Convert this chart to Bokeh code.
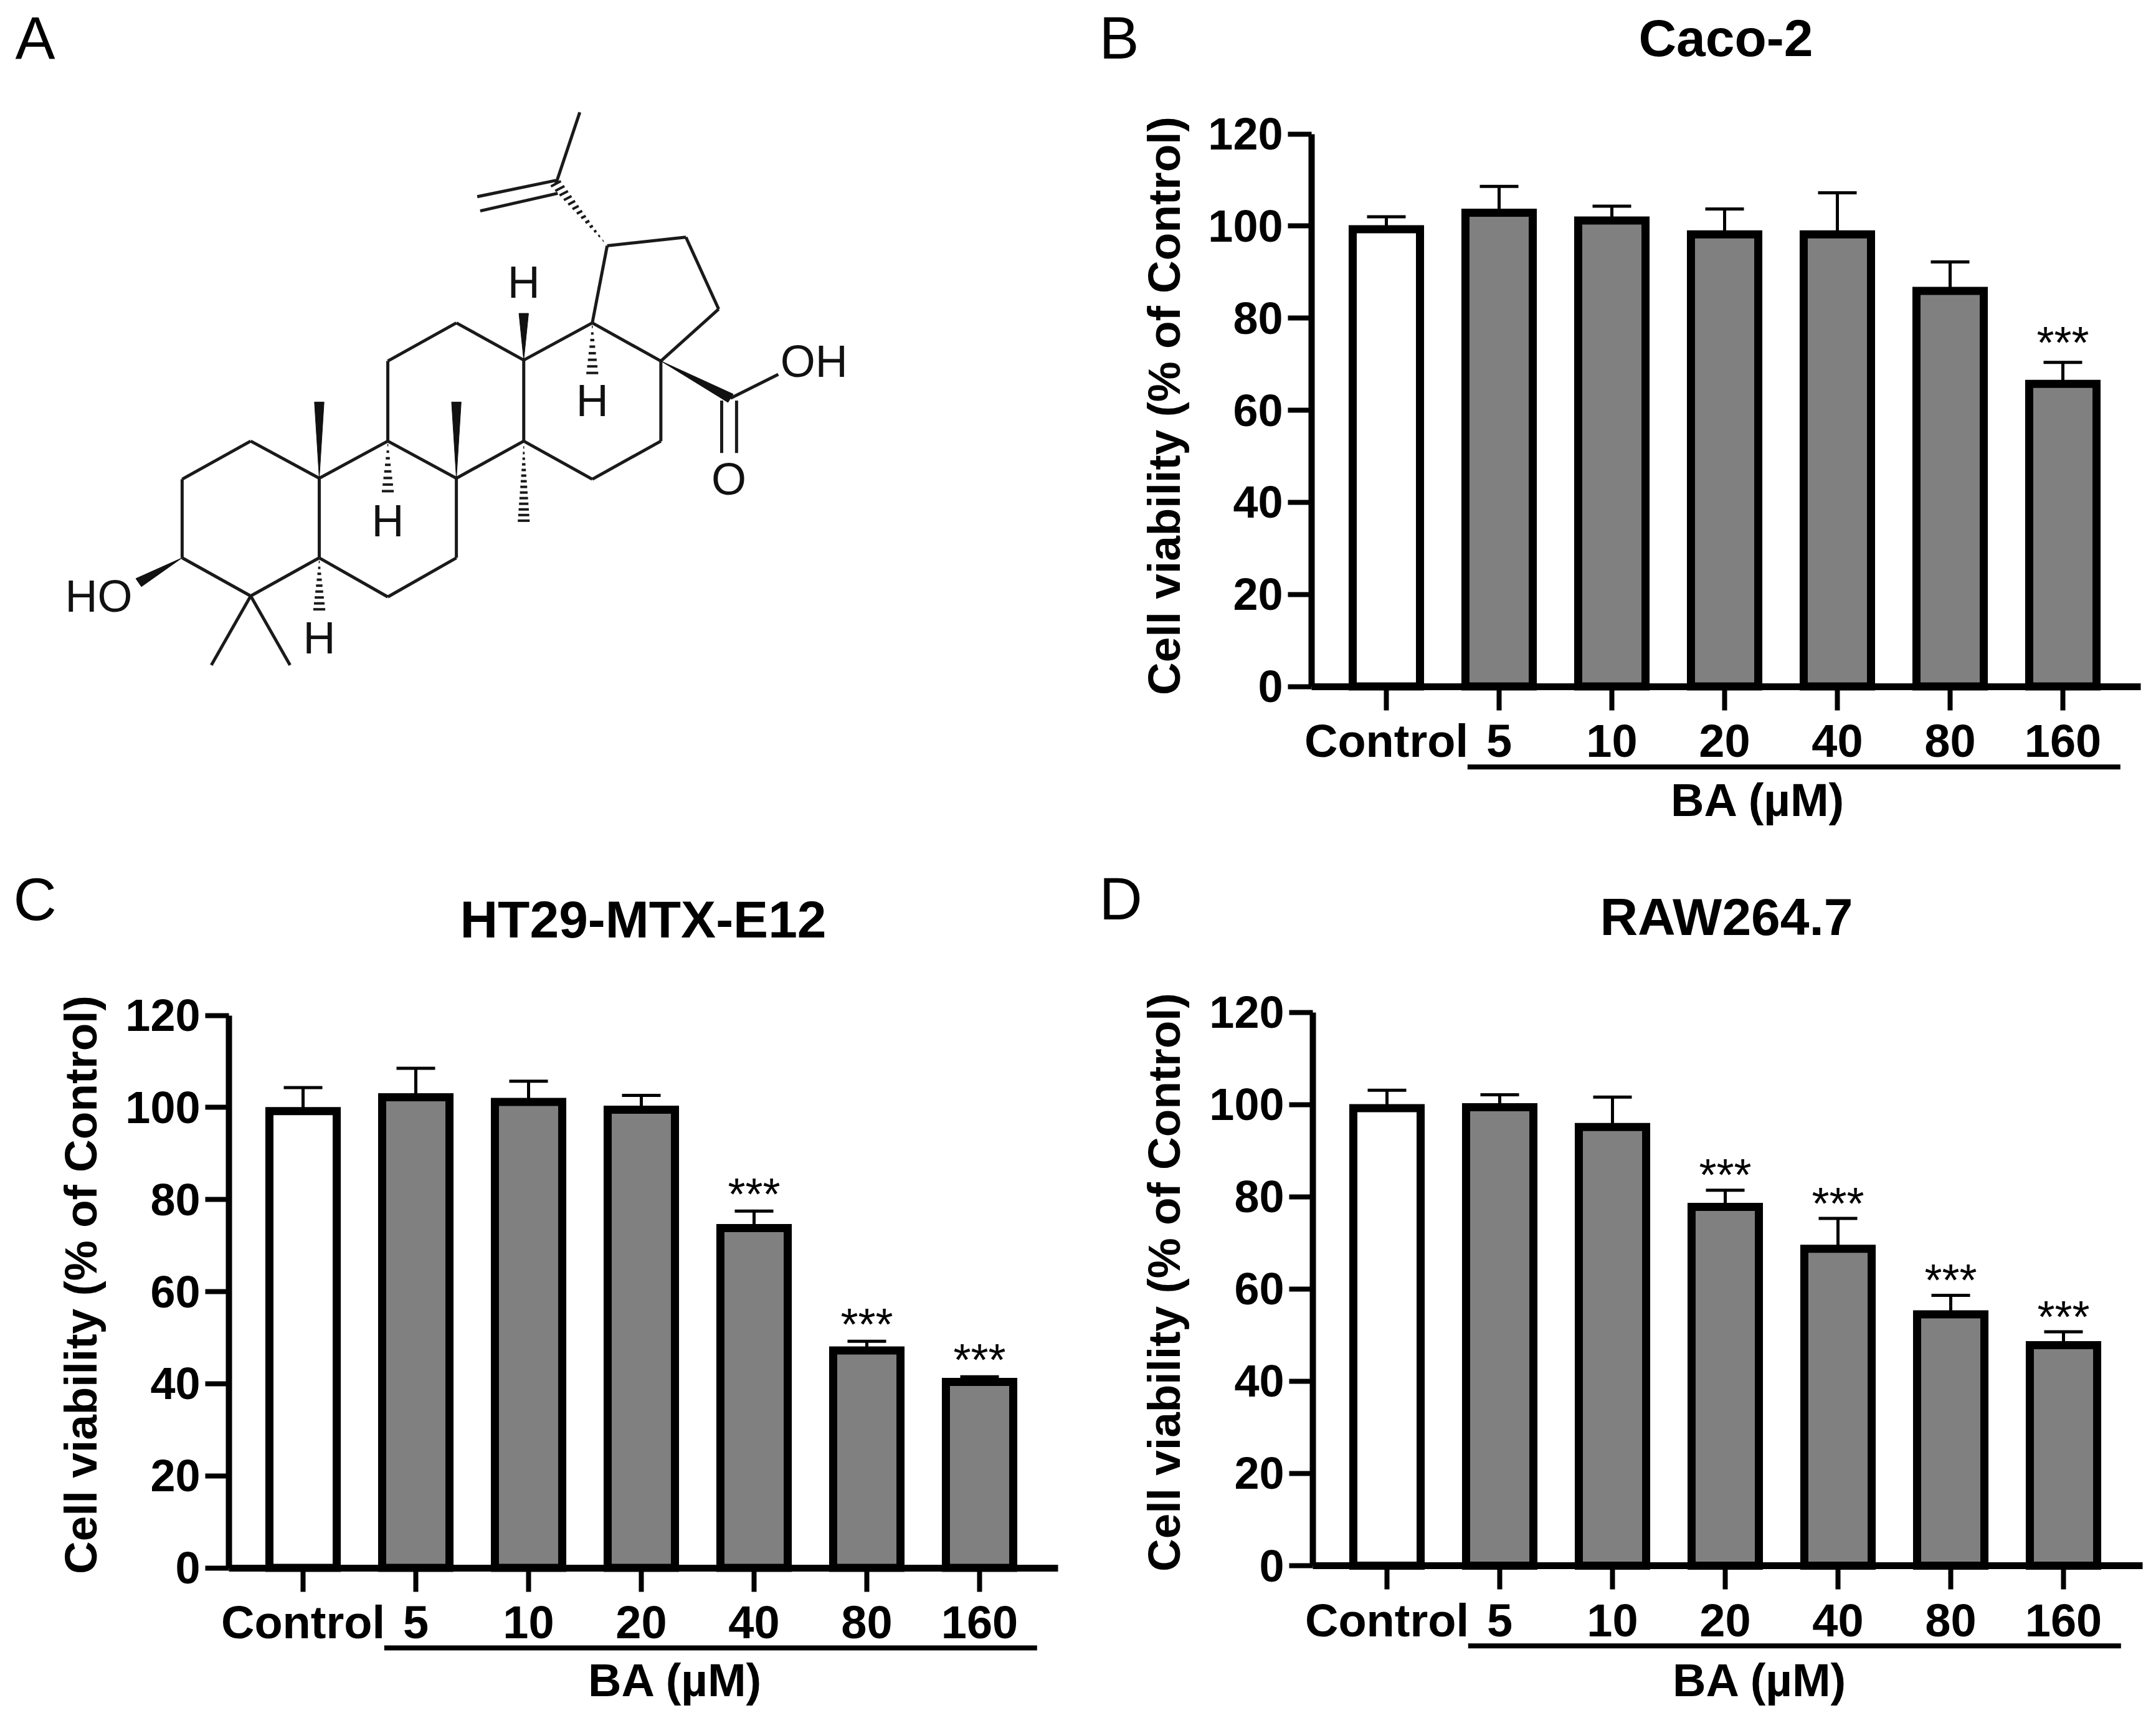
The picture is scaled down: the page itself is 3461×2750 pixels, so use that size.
from bokeh.embed import file_html
from bokeh.resources import INLINE
from bokeh.plotting import figure
from bokeh.layouts import column, row
from bokeh.core.properties import value
from bokeh.models import (ColumnDataSource, FixedTicker, Label, Whisker, TeeHead, Range1d, LinearAxis)
import numpy as np

# ---------- data ----------
categories = ["Control", "5", "10", "20", "40", "80", "160"]
y_ticks = [0, 20, 40, 60, 80, 100, 120]
y_label = "Cell viability (% of Control)"
group_label = "BA (µM)"

caco2_values = [99.3, 102.9, 101.2, 98.2, 98.2, 85.9, 65.7]
caco2_errtop = [102.0, 108.6, 104.3, 103.7, 107.2, 92.2, 70.4]
caco2_stars = [0, 0, 0, 0, 0, 0, 1]

ht29_values = [99.2, 102.2, 101.2, 99.5, 73.8, 47.2, 40.4]
ht29_errtop = [104.3, 108.5, 105.7, 102.6, 77.5, 49.2, 41.5]
ht29_stars = [0, 0, 0, 0, 1, 1, 1]

raw_values = [99.2, 99.4, 95.1, 77.8, 68.7, 54.5, 47.8]
raw_errtop = [103.1, 102.1, 101.6, 81.4, 75.3, 58.6, 50.7]
raw_stars = [0, 0, 0, 1, 1, 1, 1]

# molecule, atoms in drawing units
atoms = {
    "a1": (305, 1005), "a2": (420, 925), "a3": (535, 1003), "a4": (535, 1170), "a5": (420, 1250), "a6": (305, 1170),
    "b1": (650, 925), "b2": (765, 1003), "b3": (765, 1170), "b4": (650, 1252),
    "c1": (650, 757), "c2": (765, 677), "c3": (878, 755), "c4": (878, 925),
    "d1": (993, 677), "d2": (1108, 757), "d3": (1108, 925), "d4": (993, 1005),
    "e1": (1018, 515), "e2": (1150, 497), "e3": (1205, 648),
    "p1": (932, 385), "p2": (972, 235),
    "m1": (354, 1395), "m2": (486, 1395),
    "k1": (1225, 835), "k2": (1305, 785),
    "w1": (232, 1222), "w2": (535, 843), "w3": (765, 843), "w4": (878, 657),
    "h1": (650, 1030), "h2": (878, 1092), "h3": (535, 1278), "h4": (993, 782),
    "v1": (800, 412), "v2": (805, 442), "v3": (932, 378), "v4": (935, 405),
    "o1": (1210, 840), "o2": (1210, 950), "o3": (1235, 840), "o4": (1235, 950),
}
bonds = [("a1", "a2"), ("a2", "a3"), ("a3", "a4"), ("a4", "a5"), ("a5", "a6"), ("a6", "a1"),
         ("a3", "b1"), ("b1", "b2"), ("b2", "b3"), ("b3", "b4"), ("b4", "a4"),
         ("b1", "c1"), ("c1", "c2"), ("c2", "c3"), ("c3", "c4"), ("c4", "b2"),
         ("c3", "d1"), ("d1", "d2"), ("d2", "d3"), ("d3", "d4"), ("d4", "c4"),
         ("d1", "e1"), ("e1", "e2"), ("e2", "e3"), ("e3", "d2"),
         ("p1", "p2"), ("v3", "v1"), ("v4", "v2"), ("a5", "m1"), ("a5", "m2"),
         ("k1", "k2"), ("o1", "o2"), ("o3", "o4")]
wedges = [("a6", "w1"), ("a3", "w2"), ("b2", "w3"), ("c3", "w4"), ("d2", "k1")]
hashes = [("b1", "h1"), ("c4", "h2"), ("a4", "h3"), ("d1", "h4"), ("e1", "p1")]
atom_labels = [("HO", 165, 1250), ("H", 535, 1338), ("H", 650, 1092), ("H", 993, 840),
               ("H", 878, 592), ("OH", 1365, 758), ("O", 1222, 1005)]

FONT = "Liberation Sans"
TOP_H, BOT_H, LEFT_W, RIGHT_W = 1380, 1362, 1760, 1690
TOP_ORIGIN, BOT_ORIGIN, LEFT_ORIGIN, RIGHT_ORIGIN = 0, 1380, 0, 1760


def bar_panel(title, letter, values, errtop, stars, star_gap, ox, oy, w, h, ax_left, ax_right, tick0, y0, y120,
              title_x, title_y, letter_x, letter_y, ba_x, ba_y, line_y, ylab_x, ylab_y):
    step = 181.0
    unit = (y0 - y120) / 120.0
    to_x = lambda px: (px - tick0) / step
    to_y = lambda py: (y0 - py) / unit
    p = figure(width=w, height=h, output_backend="svg", toolbar_location=None,
               x_range=Range1d(to_x(ox), to_x(ox + w)), y_range=Range1d(to_y(oy + h), to_y(oy)),
               x_axis_type=None, y_axis_type=None, min_border=0)
    p.grid.visible = False
    p.outline_line_color = None
    x = list(range(len(categories)))
    fills = ["white"] + ["#808080"] * (len(categories) - 1)
    src = ColumnDataSource(dict(x=x, top=values, err=errtop, fill=fills))
    p.add_layout(Whisker(base="x", lower="top", upper="err", source=src, lower_head=None,
                         upper_head=TeeHead(size=62, line_width=5, line_color="black"),
                         line_width=5, line_color="black", level="underlay"))
    p.vbar(x="x", top="top", bottom=0, width=0.597, source=src, fill_color="fill",
           line_color="black", line_width=13, line_join="miter")
    sx = [i for i, s in zip(x, stars) if s]
    sy = [e + star_gap for e, s in zip(errtop, stars) if s]
    p.text(sx, sy, text=["***"] * len(sx), text_align="center", text_baseline="alphabetic",
           text_font=value(FONT), text_font_size="72px", text_color="black")

    xa = LinearAxis(fixed_location=0, bounds=(to_x(ax_left), to_x(ax_right)))
    xa.ticker = FixedTicker(ticks=x)
    xa.major_label_overrides = {i: c for i, c in zip(x, categories)}
    xa.axis_line_width = 11
    xa.major_tick_line_width = 8
    xa.major_tick_out = 38
    xa.major_tick_in = 0
    xa.minor_tick_line_color = None
    xa.major_label_standoff = 8
    xa.major_label_text_font = FONT
    xa.major_label_text_font_style = "bold"
    xa.major_label_text_font_size = "74px"
    xa.major_label_text_color = "black"
    p.add_layout(xa, "below")

    ya = LinearAxis(fixed_location=to_x(ax_left), bounds=(0, 120))
    ya.ticker = FixedTicker(ticks=y_ticks)
    ya.axis_line_width = 10
    ya.major_tick_line_width = 8
    ya.major_tick_out = 38
    ya.major_tick_in = 0
    ya.minor_tick_line_color = None
    ya.major_label_standoff = 8
    ya.major_label_text_font = FONT
    ya.major_label_text_font_style = "bold"
    ya.major_label_text_font_size = "72px"
    ya.major_label_text_color = "black"
    p.add_layout(ya, "left")

    p.segment(0.72, line_y, 6.51, line_y, line_color="black", line_width=8)
    p.add_layout(Label(x=to_x(ylab_x), y=to_y(ylab_y), text=y_label, angle=np.pi / 2, text_align="center",
                       text_baseline="middle", text_font=FONT, text_font_style="bold",
                       text_font_size="73px", text_color="black"))
    p.add_layout(Label(x=to_x(ba_x), y=to_y(ba_y), text=group_label, text_align="center",
                       text_baseline="middle", text_font=FONT, text_font_style="bold",
                       text_font_size="74px", text_color="black"))
    p.add_layout(Label(x=to_x(title_x), y=to_y(title_y), text=title, text_align="center",
                       text_baseline="middle", text_font=FONT, text_font_style="bold",
                       text_font_size="84px", text_color="black"))
    p.add_layout(Label(x=to_x(letter_x), y=to_y(letter_y), text=letter, text_align="left",
                       text_baseline="middle", text_font=FONT,
                       text_font_size="96px", text_color="black"))
    return p


def molecule_panel():
    sx_, sy_ = 0.957, 0.765
    p = figure(width=LEFT_W, height=TOP_H, output_backend="svg", toolbar_location=None,
               x_range=Range1d(LEFT_ORIGIN / sx_, (LEFT_ORIGIN + LEFT_W) / sx_),
               y_range=Range1d((TOP_ORIGIN + TOP_H) / sy_, TOP_ORIGIN / sy_),
               x_axis_type=None, y_axis_type=None, min_border=0)
    p.grid.visible = False
    p.outline_line_color = None
    xs = [[atoms[a][0], atoms[b][0]] for a, b in bonds]
    ys = [[atoms[a][1], atoms[b][1]] for a, b in bonds]
    p.multi_line(xs, ys, line_color="#1a1a1a", line_width=5)
    wx, wy = [], []
    for a, b in wedges:
        (x0, y0), (x1, y1) = atoms[a], atoms[b]
        d = np.array([x1 - x0, y1 - y0], float)
        n = np.array([-d[1], d[0]]) / np.hypot(*d) * 8
        wx.append([x0, x1 + n[0], x1 - n[0]])
        wy.append([y0, y1 + n[1] * 1.3, y1 - n[1] * 1.3])
    p.patches(wx, wy, fill_color="#111111", line_color="#111111", line_width=1)
    hx, hy = [], []
    for a, b in hashes:
        (x0, y0), (x1, y1) = atoms[a], atoms[b]
        d = np.array([x1 - x0, y1 - y0], float)
        L = np.hypot(*d)
        n = np.array([-d[1], d[0]]) / L
        count = max(int(L * 0.77 / 9), 4)
        for t in np.linspace(0.08, 1.0, count):
            half = 10 * t
            cx, cy = x0 + d[0] * t, y0 + d[1] * t
            hx.append([cx - n[0] * half, cx + n[0] * half])
            hy.append([cy - n[1] * half, cy + n[1] * half])
    p.multi_line(hx, hy, line_color="#1a1a1a", line_width=4)
    p.text([a[1] for a in atom_labels], [a[2] for a in atom_labels], text=[a[0] for a in atom_labels],
           text_align="center", text_baseline="middle", text_font=value(FONT), text_font_size="72px",
           text_color="#111111")
    p.add_layout(Label(x=24 / sx_, y=60 / sy_, text="A", text_align="left", text_baseline="middle",
                       text_font=FONT, text_font_size="96px", text_color="black"))
    return p


a = molecule_panel()
b = bar_panel("Caco-2", "B", caco2_values, caco2_errtop, caco2_stars, 4.25, RIGHT_ORIGIN, TOP_ORIGIN, RIGHT_W, TOP_H,
              2105, 3436, 2225, 1101.5, 214.5, 2770, 60, 1764, 60, 2822, 1284, -17.5, 1868, 651)
c = bar_panel("HT29-MTX-E12", "C", ht29_values, ht29_errtop, ht29_stars, 3.7, LEFT_ORIGIN, BOT_ORIGIN, LEFT_W, BOT_H,
              367, 1698, 486, 2516.5, 1629.5, 1032, 1475, 21, 1443, 1084, 2697, -17.4, 129, 2062)
d = bar_panel("RAW264.7", "D", raw_values, raw_errtop, raw_stars, 3.3, RIGHT_ORIGIN, BOT_ORIGIN, RIGHT_W, BOT_H,
              2107, 3439, 2226, 2513, 1624.5, 2771, 1471, 1764, 1442, 2825, 2697, -17.4, 1868, 2058)

page = column(row(a, b), row(c, d))
open("out.html", "w").write(file_html(page, INLINE))
